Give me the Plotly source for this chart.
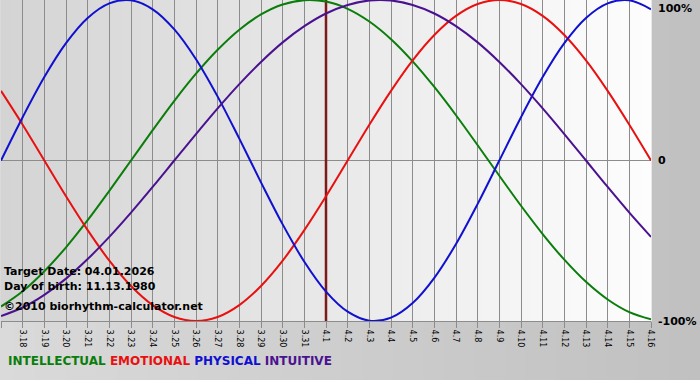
import plotly.graph_objects as go

dates = ["3.17", "3.18", "3.19", "3.20", "3.21", "3.22", "3.23", "3.24", "3.25", "3.26",
         "3.27", "3.28", "3.29", "3.30", "3.31", "4.1", "4.2", "4.3", "4.4", "4.5",
         "4.6", "4.7", "4.8", "4.9", "4.10", "4.11", "4.12", "4.13", "4.14", "4.15", "4.16"]

intellectual = [-0.910, -0.815, -0.690, -0.541, -0.372, -0.189, 0.000, 0.189, 0.372, 0.541,
                0.690, 0.815, 0.910, 0.972, 0.999, 0.990, 0.945, 0.866, 0.756, 0.618,
                0.458, 0.282, 0.095, -0.095, -0.282, -0.458, -0.618, -0.756, -0.866, -0.945, -0.990]
emotional = [0.434, 0.223, 0.000, -0.223, -0.434, -0.624, -0.782, -0.901, -0.975, -1.000,
             -0.975, -0.901, -0.782, -0.624, -0.434, -0.223, 0.000, 0.223, 0.434, 0.624,
             0.782, 0.901, 0.975, 1.000, 0.975, 0.901, 0.782, 0.624, 0.434, 0.223, 0.000]
physical = [0.000, 0.270, 0.520, 0.731, 0.888, 0.979, 0.998, 0.942, 0.817, 0.631,
            0.398, 0.136, -0.136, -0.398, -0.631, -0.817, -0.942, -0.998, -0.979, -0.888,
            -0.731, -0.520, -0.270, 0.000, 0.270, 0.520, 0.731, 0.888, 0.979, 0.998, 0.942]
intuitive = [-0.969, -0.916, -0.837, -0.736, -0.614, -0.476, -0.325, -0.165, 0.000, 0.165,
             0.325, 0.476, 0.614, 0.736, 0.837, 0.916, 0.969, 0.997, 0.997, 0.969,
             0.916, 0.837, 0.736, 0.614, 0.476, 0.325, 0.165, 0.000, -0.165, -0.325, -0.476]

series_names = ["INTELLECTUAL", "EMOTIONAL", "PHYSICAL", "INTUITIVE"]
series_colors = ["#0a7d0a", "#e81010", "#1010d0", "#4b1290"]
series_values = [intellectual, emotional, physical, intuitive]

target_label = "4.1"
y_levels = [1, 0, -1]
y_labels = ["100%", "0", "-100%"]
info_lines = ["Target Date: 04.01.2026", "Day of birth: 11.13.1980", "©2010 biorhythm-calculator.net"]

fig = go.Figure()
xs = list(range(len(dates)))

# target date marker line (drawn first, beneath the curves)
ti = dates.index(target_label)
fig.add_trace(go.Scatter(x=[ti, ti], y=[min(y_levels), max(y_levels)], mode="lines",
                         line=dict(color="#7e1a1a", width=2.5), hoverinfo="skip", cliponaxis=True))

for name, color, vals in zip(series_names, series_colors, series_values):
    fig.add_trace(go.Scatter(x=xs, y=vals, mode="lines", name=name,
                             line=dict(color=color, width=2, shape="spline", smoothing=1),
                             hoverinfo="skip"))

shapes = []
# paper gradient background
n = 70
for i in range(n):
    t = i / (n - 1)
    c = int(round(218 - (218 - 192) * t))
    shapes.append(dict(type="rect", xref="paper", yref="paper", x0=-0.01 + i * 1.1 / n, x1=-0.01 + (i + 1) * 1.1 / n + 0.002,
                       y0=-0.25, y1=1.05, line=dict(width=0), fillcolor=f"rgb({c},{c},{c})", layer="below"))
# plot gradient background
m = 65
for i in range(m):
    t = i / (m - 1)
    c = int(round(212 + (253 - 212) * t))
    shapes.append(dict(type="rect", xref="x domain", yref="y domain", x0=i / m, x1=(i + 1) / m + 0.001,
                       y0=0, y1=1, line=dict(width=0), fillcolor=f"rgb({c},{c},{c})", layer="below"))

annotations = []
for yl, lab in zip(y_levels, y_labels):
    annotations.append(dict(xref="paper", yref="y", x=1, y=yl, xanchor="left",
                            yanchor="top" if yl == 1 else "middle", xshift=5, showarrow=False,
                            text=f"<b>{lab}</b>", font=dict(family="DejaVu Sans", size=11, color="#000")))
info_y = [0.153, 0.107, 0.046]
for yy, txt in zip(info_y, info_lines):
    annotations.append(dict(xref="paper", yref="paper", x=0, y=yy, xanchor="left", yanchor="middle",
                            xshift=1, showarrow=False, text=f"<b>{txt}</b>",
                            font=dict(family="DejaVu Sans", size=11, color="#000")))
legend_text = "&nbsp;".join(f'<span style="color:{c}">{n}</span>' for n, c in zip(series_names, series_colors))
annotations.append(dict(xref="paper", yref="paper", x=0, y=-0.125, xanchor="left", yanchor="middle",
                        xshift=5, showarrow=False, text=f"<b>{legend_text}</b>",
                        font=dict(family="DejaVu Sans", size=12)))

fig.update_layout(
    width=700, height=380,
    margin=dict(l=1, r=49, t=0, b=59),
    paper_bgcolor="#c8c8c8",
    plot_bgcolor="rgba(0,0,0,0)",
    showlegend=False,
    shapes=shapes,
    annotations=annotations,
    xaxis=dict(range=[0, len(dates) - 1], tickvals=xs, ticktext=dates, tickangle=90,
               showgrid=True, gridcolor="#8c8c8c", gridwidth=1,
               showline=True, linecolor="#8c8c8c", linewidth=1,
               ticks="outside", ticklen=6, tickcolor="#8c8c8c",
               tickfont=dict(family="DejaVu Sans", size=8, color="#000"),
               zeroline=False, fixedrange=True),
    yaxis=dict(range=[-1, 1], showgrid=False, showticklabels=False,
               zeroline=True, zerolinecolor="#8c8c8c", zerolinewidth=1, fixedrange=True),
)

fig.write_html("out.html")
